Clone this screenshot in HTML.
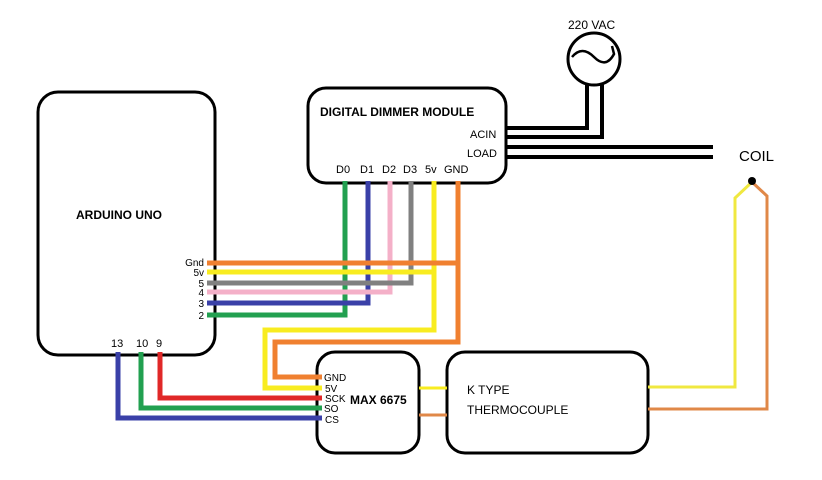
<!DOCTYPE html>
<html><head><style>
body{margin:0;background:#fff;}
svg{display:block;font-family:"Liberation Sans",sans-serif;}
</style></head><body>
<svg width="822" height="480" viewBox="0 0 822 480">
<rect width="822" height="480" fill="#fff"/>
<g fill="none" stroke="#000" stroke-width="3">
<rect x="38" y="92" width="177" height="263" rx="20"/>
<rect x="308" y="88" width="198" height="95" rx="18"/>
<rect x="317" y="352" width="102" height="101" rx="18"/>
<rect x="447" y="352" width="201" height="101" rx="18"/>
<circle cx="594" cy="59" r="26"/>
<path d="M572 57 Q582 45 594 57 T614 54 L612 46" stroke-width="2.5"/>
</g>
<g stroke="#000" stroke-width="4" fill="none">
<path d="M506 128 H587 V84"/>
<path d="M506 137 H602 V84"/>
<path d="M506 147 H713"/>
<path d="M506 157 H713"/>
</g>
<g fill="none" stroke-width="5">
<path d="M345 181 V315 H207" stroke="#22a050"/>
<path d="M368 181 V303 H207" stroke="#3a40a8"/>
<path d="M390 181 V292 H207" stroke="#f4b0c8"/>
<path d="M411 181 V283 H207" stroke="#808080"/>
<path d="M434 181 V272 H207" stroke="#f8ec20"/>
<path d="M458 181 V263 H207" stroke="#f08030"/>
<path d="M434 272 V330 H265 V388 H322" stroke="#f8ec20"/>
<path d="M458 263 V342 H275 V377 H322" stroke="#f08030"/>
<path d="M160 352 V398 H322" stroke="#e02828"/>
<path d="M141 352 V408 H322" stroke="#22a050"/>
<path d="M118 352 V418 H322" stroke="#3a40a8"/>
</g>
<g fill="none" stroke-width="3">
<path d="M419 388 H447" stroke="#f8ec20"/>
<path d="M419 415 H447" stroke="#e08848"/>
<path d="M648 387 H735 V198 L752 182" stroke="#f0e840"/>
<path d="M648 409 H767 V196 L752 182" stroke="#e08848"/>
</g>
<circle cx="752" cy="181" r="4" fill="#000"/>
<g font-size="12" font-weight="bold" fill="#000">
<text x="76" y="219">ARDUINO UNO</text>
<text x="320" y="116">DIGITAL DIMMER MODULE</text>
<text x="350" y="404">MAX 6675</text>
<text x="467" y="394" font-weight="normal">K TYPE</text>
<text x="467" y="414" font-weight="normal">THERMOCOUPLE</text>
</g>
<g font-size="11" fill="#000">
<text x="470" y="138">ACIN</text>
<text x="467" y="157">LOAD</text>
<text x="336" y="173">D0</text><text x="360" y="173">D1</text><text x="382" y="173">D2</text><text x="403" y="173">D3</text><text x="425" y="173">5v</text><text x="444" y="173">GND</text>
<text x="568" y="29" font-size="12">220 VAC</text>
<text x="739" y="161" font-size="15">COIL</text>
<g text-anchor="end" font-size="10">
<text x="204" y="266">Gnd</text><text x="204" y="276">5v</text><text x="204" y="287">5</text><text x="204" y="296">4</text><text x="204" y="307">3</text><text x="204" y="319">2</text>
</g>
<text x="111" y="347">13</text><text x="136" y="347">10</text><text x="156" y="347">9</text>
<g font-size="10"><text x="324" y="381">GND</text><text x="325" y="392">5V</text><text x="325" y="402">SCK</text><text x="324" y="412">SO</text><text x="325" y="423">CS</text></g>
</g>
</svg>
</body></html>
